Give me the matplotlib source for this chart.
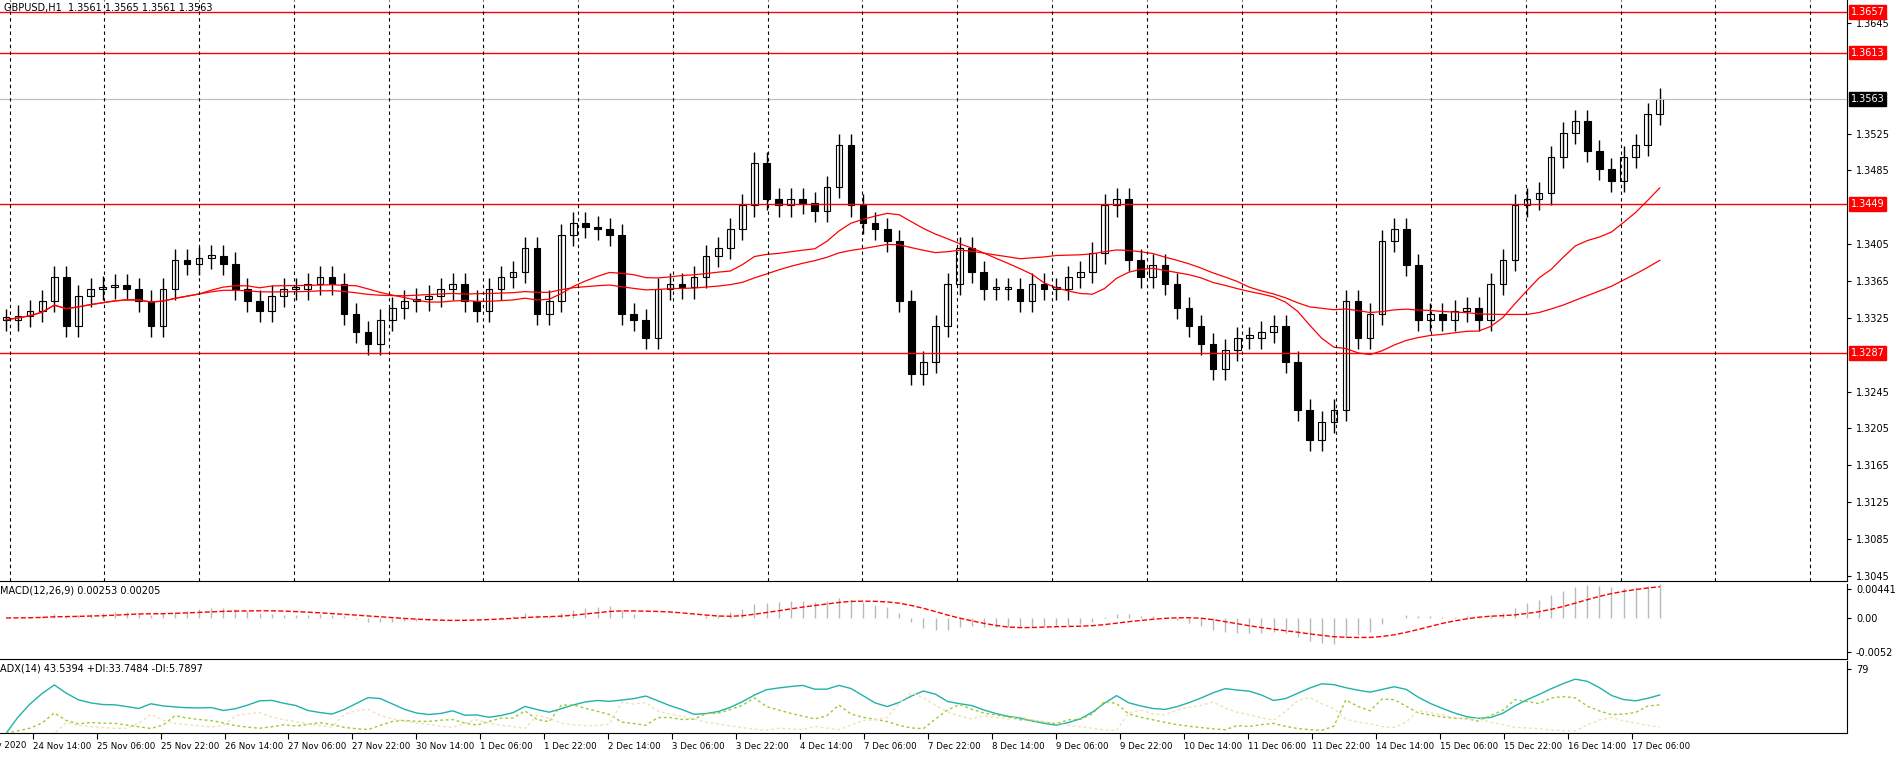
import numpy as np
import pandas as pd
import matplotlib.pyplot as plt

# GBPUSD closes, one value per 3 hours
closes = [1.3323, 1.3327, 1.3332, 1.3343, 1.3369, 1.3316, 1.3349, 1.3356, 1.3358, 1.3361,
          1.3356, 1.3343, 1.3316, 1.3356, 1.3388, 1.3384, 1.3390, 1.3392, 1.3384, 1.3356,
          1.3343, 1.3332, 1.3349, 1.3356, 1.3356, 1.3362, 1.3369, 1.3362, 1.3329, 1.3310,
          1.3297, 1.3323, 1.3336, 1.3343, 1.3345, 1.3349, 1.3356, 1.3362, 1.3343, 1.3332,
          1.3356, 1.3369, 1.3375, 1.3401, 1.3329, 1.3343, 1.3415, 1.3428, 1.3424, 1.3421,
          1.3415, 1.3329, 1.3323, 1.3303, 1.3356, 1.3362, 1.3358, 1.3369, 1.3392, 1.3401,
          1.3421, 1.3447, 1.3493, 1.3454, 1.3447, 1.3454, 1.3450, 1.3441, 1.3467, 1.3513,
          1.3447, 1.3428, 1.3421, 1.3408, 1.3343, 1.3264, 1.3277, 1.3316, 1.3362, 1.3401,
          1.3375, 1.3356, 1.3356, 1.3356, 1.3343, 1.3362, 1.3356, 1.3356, 1.3369, 1.3375,
          1.3395, 1.3447, 1.3454, 1.3388, 1.3369, 1.3382, 1.3362, 1.3336, 1.3316, 1.3297,
          1.3270, 1.3290, 1.3303, 1.3303, 1.3310, 1.3316, 1.3277, 1.3225, 1.3192, 1.3212,
          1.3225, 1.3343, 1.3303, 1.3329, 1.3408, 1.3421, 1.3382, 1.3323, 1.3329, 1.3323,
          1.3332, 1.3336, 1.3323, 1.3362, 1.3388, 1.3447, 1.3454, 1.3460, 1.3500, 1.3526,
          1.3539, 1.3506, 1.3487, 1.3474, 1.3500, 1.3513, 1.3546, 1.3563]

levels = [1.3657, 1.3613, 1.3449, 1.3287]
current = 1.3563

first_label = "23 Nov 2020"
time_labels = ["24 Nov 14:00", "25 Nov 06:00", "25 Nov 22:00", "26 Nov 14:00",
               "27 Nov 06:00", "27 Nov 22:00", "30 Nov 14:00", "1 Dec 06:00", "1 Dec 22:00",
               "2 Dec 14:00", "3 Dec 06:00", "3 Dec 22:00", "4 Dec 14:00", "7 Dec 06:00",
               "7 Dec 22:00", "8 Dec 14:00", "9 Dec 06:00", "9 Dec 22:00", "10 Dec 14:00",
               "11 Dec 06:00", "11 Dec 22:00", "14 Dec 14:00", "15 Dec 06:00", "15 Dec 22:00",
               "16 Dec 14:00", "17 Dec 06:00"]

c = pd.Series(closes)
o = c.shift(1).fillna(c.iloc[0])
wick = 0.0012
hi = np.maximum(o, c) + wick
lo = np.minimum(o, c) - wick
x = np.arange(len(c))

fig = plt.figure(figsize=(19.04, 7.6), dpi=100)
ax = fig.add_axes([0.0, 0.235, 0.97, 0.765])
ax2 = fig.add_axes([0.0, 0.133, 0.97, 0.099], sharex=ax)
ax3 = fig.add_axes([0.0, 0.035, 0.97, 0.095], sharex=ax)

# candles
ax.vlines(x, lo, hi, color="black", lw=1)
ax.bar(x, (c - o).abs().clip(lower=0.0003), bottom=np.minimum(o, c), width=0.55,
       color=np.where(c >= o, "white", "black"), edgecolor="black", lw=0.8)
ax.plot(x, c.rolling(17, min_periods=1).mean(), color="red", lw=0.9)
ax.plot(x, c.rolling(34, min_periods=1).mean(), color="red", lw=0.9)

for lv in levels:
    ax.axhline(lv, color="red", lw=1)
    ax.text(1.002, lv, f"{lv:.4f}", transform=ax.get_yaxis_transform(), fontsize=7,
            color="white", va="center", ha="left", zorder=5,
            bbox=dict(boxstyle="square,pad=0.2", fc="red", ec="red"))
ax.axhline(current, color="#bbbbbb", lw=0.8)
ax.text(1.002, current, f"{current:.4f}", transform=ax.get_yaxis_transform(), fontsize=7,
        color="white", va="center", ha="left", zorder=5,
        bbox=dict(boxstyle="square,pad=0.2", fc="black", ec="black"))

ax.set_ylim(1.3039, 1.3670)
yt = [t for t in np.arange(1.3045, 1.3645, 0.0040)
      if min(abs(t - v) for v in levels + [current]) > 0.0010]
ax.set_yticks(yt)
ax.yaxis.tick_right()
ax.tick_params(axis="y", labelsize=7, length=3)
ax.yaxis.set_major_formatter(plt.FuncFormatter(lambda v, p: f"{v:.4f}"))
ax.text(0.002, 0.995, "GBPUSD,H1  1.3561 1.3565 1.3561 1.3563", transform=ax.transAxes,
        fontsize=7, va="top")

# MACD
e12 = c.ewm(span=12, adjust=False).mean()
e26 = c.ewm(span=26, adjust=False).mean()
macd = e12 - e26
sig = macd.rolling(9, min_periods=1).mean()
ax2.vlines(x, 0, macd, color="#b8b8b8", lw=1)
ax2.plot(x, sig, color="red", lw=1, ls="--")
ax2.set_ylim(-0.0062, 0.0052)
ax2.set_yticks([-0.0052, 0.0, 0.00441])
ax2.set_yticklabels(["-0.0052", "0.00", "0.00441"])
ax2.yaxis.tick_right()
ax2.tick_params(axis="y", labelsize=7, length=3)
ax2.text(0.0, 0.97, "MACD(12,26,9) 0.00253 0.00205", transform=ax2.transAxes, fontsize=7, va="top")

# ADX
hs, ls = pd.Series(hi), pd.Series(lo)
up = hs.diff()
dn = -ls.diff()
pdm = np.where((up > dn) & (up > 0), up, 0.0)
mdm = np.where((dn > up) & (dn > 0), dn, 0.0)
tr = pd.concat([hs - ls, (hs - c.shift()).abs(), (ls - c.shift()).abs()], axis=1).max(axis=1)
atr = tr.ewm(alpha=1 / 5, adjust=False).mean()
pdi = 100 * pd.Series(pdm).ewm(alpha=1 / 5, adjust=False).mean() / atr
mdi = 100 * pd.Series(mdm).ewm(alpha=1 / 5, adjust=False).mean() / atr
dx = 100 * (pdi - mdi).abs() / (pdi + mdi).replace(0, np.nan)
adx = dx.fillna(0).ewm(alpha=1 / 5, adjust=False).mean()
ax3.plot(x, adx, color="#20b2aa", lw=1)
ax3.plot(x, pdi, color="#9acd32", lw=1, ls=(0, (2, 2)))
ax3.plot(x, mdi, color="#f5deb3", lw=1, ls=(0, (2, 2)))
ax3.set_ylim(0, 88)
ax3.set_yticks([79])
ax3.yaxis.tick_right()
ax3.tick_params(axis="y", labelsize=7, length=3)
ax3.text(0.0, 0.97, "ADX(14) 43.5394 +DI:33.7484 -DI:5.7897", transform=ax3.transAxes, fontsize=7, va="top")

# time axis
tick_pos = [2.2 + 5.3 * k for k in range(len(time_labels))]
ax3.set_xticks(tick_pos)
ax3.set_xticklabels(time_labels, ha="left", fontsize=6.2)
ax3.tick_params(axis="x", length=4, pad=2)
ax3.text(-2.9, -0.1, first_label, transform=ax3.get_xaxis_transform(), fontsize=6.2,
         va="top", ha="left", clip_on=False)
for a in (ax, ax2):
    a.tick_params(axis="x", bottom=False, labelbottom=False)

for a in (ax, ax2, ax3):
    for s in ("top", "left"):
        a.spines[s].set_visible(False)
for g in np.arange(0.3, 152, 7.85):
    ax.axvline(g, color="black", lw=0.8, ls=(0, (3, 3)))
ax.set_xlim(-0.5, 152.5)

fig.savefig("out.png", dpi=100)
